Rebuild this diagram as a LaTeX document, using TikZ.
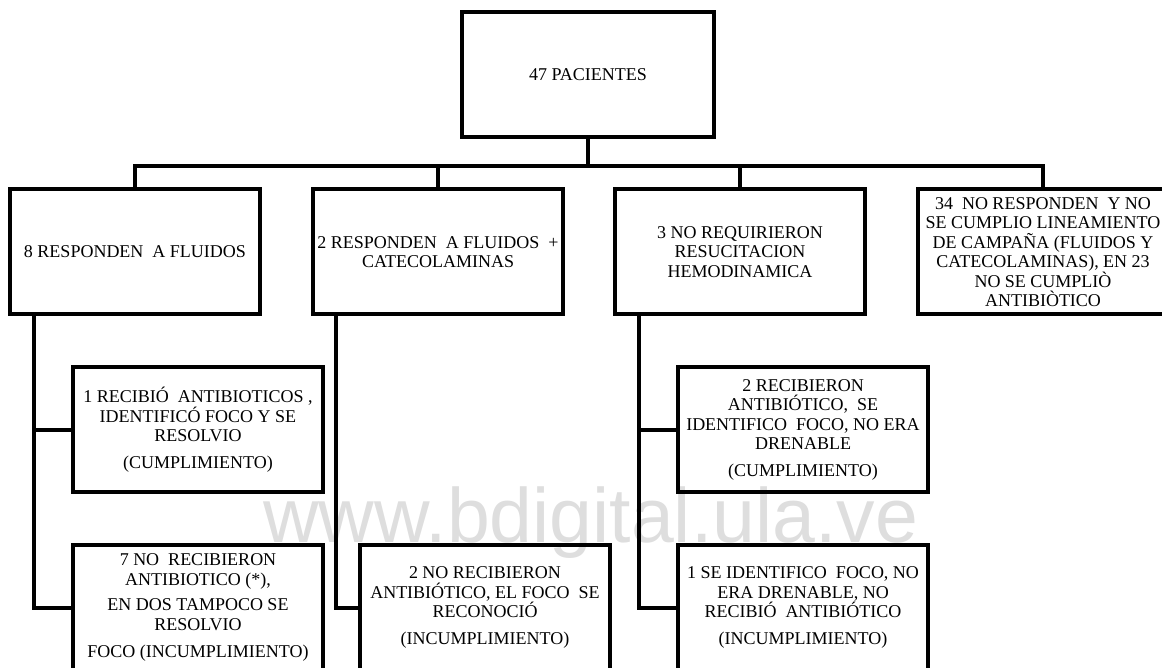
\documentclass[tikz,border=0pt]{standalone}
\usepackage{fontspec}
\setmainfont{Liberation Serif}
\newfontfamily\marcafont{Liberation Sans}

\begin{document}
\begin{tikzpicture}[x=1pt,y=-1pt,
    caja/.style={draw,line width=4pt,minimum width=250pt,minimum height=125pt,
      align=center,inner sep=2pt,font=\fontsize{18}{19.5}\selectfont},
    rama/.style={line width=4pt}]
    \useasboundingbox (0,0) rectangle (1162,668);
    % marca de agua, debajo de todo
    \node[anchor=base west,inner sep=0pt,text=black!13,
      font=\marcafont\fontsize{77}{77}\selectfont] (marca) at (263,542) {www.bdigital.ula.ve};

    \node[caja,minimum width=252pt] (total) at (588,74.5) {47 PACIENTES};

    \node[caja] (fluidos) at (135,252) {8 RESPONDEN\ \ A FLUIDOS};
    \node[caja] (catecol) at (438,252) {2 RESPONDEN\ \ A FLUIDOS\ \ +\\CATECOLAMINAS};
    \node[caja] (noreq) at (740,252) {3 NO REQUIRIERON\\RESUCITACION\\HEMODINAMICA};
    \node[caja] (norespon) at (1043,252) {34\ \ NO RESPONDEN\ \ Y NO\\SE CUMPLIO LINEAMIENTO\\DE CAMPAÑA (FLUIDOS Y\\CATECOLAMINAS), EN 23\\NO SE CUMPLIÒ\\ANTIBIÒTICO};

    \node[caja] (fluidosA) at (198,429.5) {1 RECIBIÓ\ \ ANTIBIOTICOS\ ,\\IDENTIFICÓ FOCO Y SE\\RESOLVIO\\[7pt](CUMPLIMIENTO)};
    \node[caja] (fluidosB) at (198,607.5) {7 NO\ \ RECIBIERON\\ANTIBIOTICO (*),\\[6pt]EN DOS TAMPOCO SE\\RESOLVIO\\[8pt]FOCO (INCUMPLIMIENTO)};
    \node[caja] (catecolB) at (485,607.5) {2 NO RECIBIERON\\ANTIBIÓTICO, EL FOCO\ \ SE\\RECONOCIÓ\\[7pt](INCUMPLIMIENTO)};
    \node[caja] (noreqA) at (803,429.5) {2 RECIBIERON\\ANTIBIÓTICO,\ \ SE\\IDENTIFICO\ \ FOCO, NO ERA\\DRENABLE\\[7pt](CUMPLIMIENTO)};
    \node[caja] (noreqB) at (803,607.5) {1 SE IDENTIFICO\ \ FOCO, NO\\ERA DRENABLE, NO\\RECIBIÓ\ \ ANTIBIÓTICO\\[7pt](INCUMPLIMIENTO)};

    % arbol
    \draw[rama] (total.south) -- ++(0,27) coordinate (bus);
    \foreach \n in {fluidos,catecol,noreq,norespon}
      \draw[rama] (bus) -| (\n.north);

    \draw[rama] ([xshift=26pt]fluidos.south west) |- (fluidosA.west);
    \draw[rama] ([xshift=26pt]fluidos.south west) |- (fluidosB.west);
    \draw[rama] ([xshift=25pt]catecol.south west) |- (catecolB.west);
    \draw[rama] ([xshift=26pt]noreq.south west) |- (noreqA.west);
    \draw[rama] ([xshift=26pt]noreq.south west) |- (noreqB.west);
\end{tikzpicture}
\end{document}
